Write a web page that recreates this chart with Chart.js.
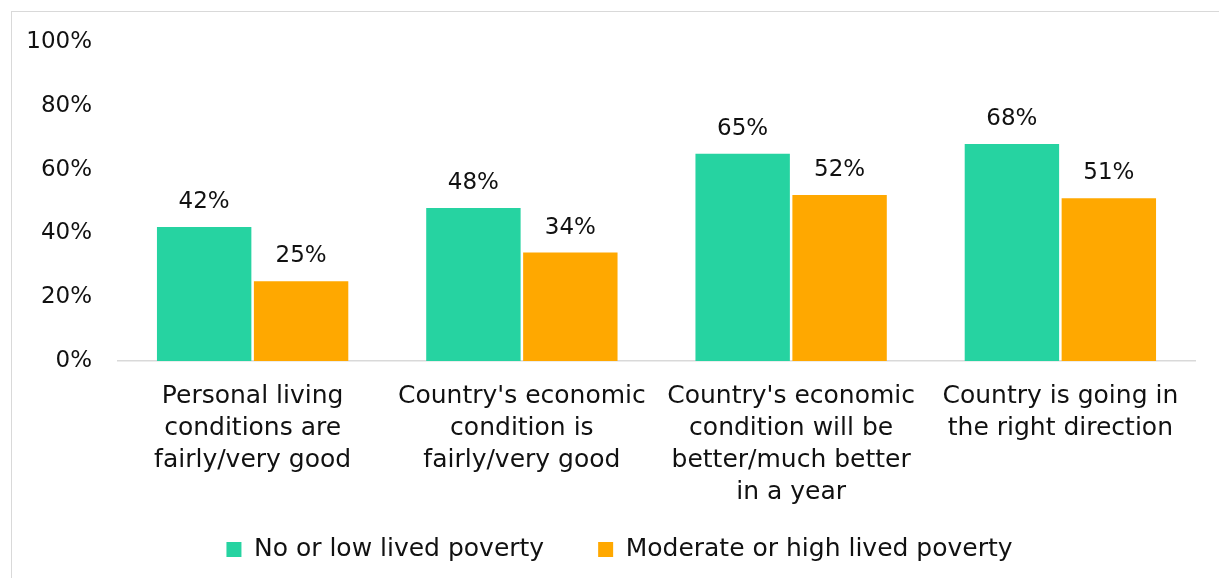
<!DOCTYPE html>
<html>
<head>
<meta charset="utf-8">
<script src="https://cdn.jsdelivr.net/npm/chart.js@4"></script>
<style>
  html, body { margin: 0; padding: 0; background: #fff; overflow: hidden; }
  #wrap { position: relative; width: 1219px; height: 578px; }
  #frame {
    position: absolute; left: 11px; top: 11px; width: 1230px; height: 600px;
    border: 1px solid #d9d9d9; box-sizing: border-box;
  }
  canvas { position: absolute; left: 0; top: 0; }
</style>
</head>
<body>
<div id="wrap">
  <div id="frame"></div>
  <canvas id="grafico" width="1219" height="578"></canvas>
</div>
<script>
const categorias = [
  ['Personal living', 'conditions are', 'fairly/very good'],
  ["Country's economic", 'condition is', 'fairly/very good'],
  ["Country's economic", 'condition will be', 'better/much better', 'in a year'],
  ['Country is going in', 'the right direction']
];
const semPobreza = [42, 48, 65, 68];
const comPobreza = [25, 34, 52, 51];
const nomesSeries = ['No or low lived poverty', 'Moderate or high lived poverty'];
const ticksY = [0, 20, 40, 60, 80, 100];

const fonte = 'DejaVu Sans';
const corTexto = '#111';

// escreve o valor em cima de cada barra
const rotulosBarras = {
  id: 'rotulosBarras',
  afterDatasetsDraw(chart) {
    const ctx = chart.ctx;
    ctx.save();
    ctx.font = '23px "' + fonte + '"';
    ctx.fillStyle = corTexto;
    ctx.textAlign = 'center';
    ctx.textBaseline = 'middle';
    chart.data.datasets.forEach((ds, i) => {
      chart.getDatasetMeta(i).data.forEach((bar, j) => {
        ctx.fillText(ds.data[j] + '%', bar.x, bar.y - 25);
      });
    });
    ctx.restore();
  }
};

// legenda um pouco para a direita, e o eixo x sem cortar a quarta linha
const ajustaLayout = {
  id: 'ajustaLayout',
  afterLayout(chart) {
    chart.legend.left += 22;
    chart.legend.right += 22;
    chart.scales.x.bottom = chart.height;
  }
};

new Chart(document.getElementById('grafico'), {
  type: 'bar',
  data: {
    labels: categorias,
    datasets: [
      { label: nomesSeries[0], data: semPobreza, backgroundColor: '#26D3A1' },
      { label: nomesSeries[1], data: comPobreza, backgroundColor: '#FFA800' }
    ]
  },
  options: {
    responsive: false,
    animation: false,
    devicePixelRatio: 1,
    categoryPercentage: 0.72,
    barPercentage: 0.974,
    layout: { padding: { left: 0, right: 24, top: 42, bottom: 6 } },
    scales: {
      x: {
        afterFit(scale) { scale.height = 122; },
        grid: { display: false, drawTicks: false },
        border: { display: true, color: '#d9d9d9', width: 1.5 },
        ticks: {
          color: corTexto,
          font: { family: fonte, size: 25, lineHeight: 1.28 },
          padding: 19,
          maxRotation: 0,
          autoSkip: false
        }
      },
      y: {
        min: 0,
        max: 100,
        afterFit(scale) { scale.width = 118; },
        afterBuildTicks(scale) { scale.ticks = ticksY.map(v => ({ value: v })); },
        grid: { display: false, drawTicks: false },
        border: { display: false },
        ticks: {
          color: corTexto,
          font: { family: fonte, size: 23 },
          padding: 26,
          callback: v => v + '%'
        }
      }
    },
    plugins: {
      legend: {
        position: 'bottom',
        labels: {
          color: corTexto,
          font: { family: fonte, size: 25 },
          boxWidth: 15,
          boxHeight: 15,
          padding: 54
        }
      },
      tooltip: { enabled: false }
    }
  },
  plugins: [rotulosBarras, ajustaLayout]
});
</script>
</body>
</html>
